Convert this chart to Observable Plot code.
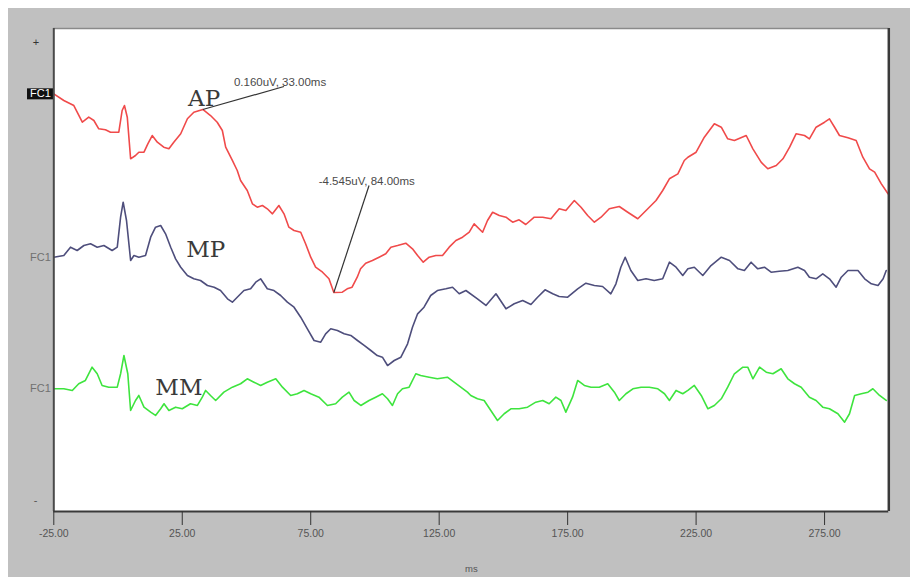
<!DOCTYPE html>
<html>
<head>
<meta charset="utf-8">
<script src="https://cdn.jsdelivr.net/npm/d3@7"></script>
<script src="https://cdn.jsdelivr.net/npm/@observablehq/plot@0.6"></script>
<style>
  html, body { margin: 0; background: #ffffff; overflow: hidden; }
  body { padding: 8px 0 0 8px; }
  #chart svg { display: block; }
</style>
</head>
<body>
<div id="chart"></div>
<script>
// Evoked response, electrode FC1, three conditions (time in ms, amplitude in µV)
const channels = ["AP", "MP", "MM"];
const channelLabel = "FC1";
const channelOffset = [0, -4, -7.3];           // vertical stacking of the traces, µV
const channelColor = ["#f04a4a", "#4e4e7c", "#3ee43e"];
const xTicks = [-25, 25, 75, 125, 175, 225, 275];
const cursorMs = [33, 84];                     // cursor readouts on the AP trace

const apMs = [-25,-21.1,-17.2,-13.9,-11.4,-9.4,-7.5,-4.9,-2.9,0.3,
  1.6,2.5,3.6,4.9,6.8,8.1,10.1,11.6,13.3,15.3,
  17.8,19.8,21.7,24.4,27.0,29.5,33,36.0,38.6,40.6,
  41.9,44.5,46.4,47.7,50.3,52.3,54.2,56.2,58.1,60.1,
  62.6,64.6,66.5,68.5,71.1,73.0,75.0,76.9,79.6,82.1,
  84,87.3,89.2,91.1,93.1,94.4,96.4,99.0,101.6,104.2,
  106.2,108.8,112.0,114.6,116.6,118.8,121.1,123.7,126.3,128.9,
  131.5,134.1,136.7,138.6,141.9,143.8,145.8,148.4,151.0,153.6,
  156.1,158.7,162.0,165.3,168.5,171.7,174.3,177.6,180.2,182.8,
  185.4,188.0,191.2,195.1,198.4,202.3,206.2,209.4,212.0,214.6,
  217.9,220.4,221.8,225.0,228.2,232.1,234.8,237.3,239.9,244.5,
  247.1,250.3,252.9,256.2,258.8,261.4,263.9,267.2,269.1,271.7,
  275.0,276.9,278.9,280.8,284.1,287.3,289.9,292.5,294.5,297.1,
  299.7];
const apUv = [0.563,0.391,0.262,-0.167,-0.038,-0.123,-0.337,-0.362,-0.424,-0.424,
  0.134,0.262,-0.038,-1.108,-1.023,-0.938,-0.938,-0.722,-0.509,-0.681,
  -0.810,-0.851,-0.681,-0.465,-0.079,0.090,0.160,0.005,-0.167,-0.380,
  -0.810,-1.151,-1.409,-1.666,-1.923,-2.265,-2.352,-2.308,-2.393,-2.522,
  -2.308,-2.522,-2.866,-2.951,-2.995,-3.293,-3.637,-3.894,-4.023,-4.193,
  -4.545,-4.537,-4.450,-4.409,-4.152,-3.936,-3.792,-3.722,-3.638,-3.550,
  -3.380,-3.337,-3.278,-3.422,-3.594,-3.766,-3.638,-3.594,-3.594,-3.380,
  -3.208,-3.123,-2.995,-2.779,-2.995,-2.694,-2.481,-2.566,-2.609,-2.738,
  -2.676,-2.797,-2.609,-2.609,-2.650,-2.393,-2.437,-2.180,-2.352,-2.566,
  -2.738,-2.609,-2.393,-2.334,-2.481,-2.650,-2.393,-2.180,-1.923,-1.622,
  -1.494,-1.152,-1.067,-0.938,-0.553,-0.208,-0.296,-0.594,-0.638,-0.509,
  -0.851,-1.195,-1.365,-1.280,-1.108,-0.810,-0.465,-0.509,-0.594,-0.296,
  -0.167,-0.080,-0.296,-0.509,-0.568,-0.638,-1.067,-1.365,-1.452,-1.751,
  -2.008];

const mpMs = [-25,-21.1,-18.5,-15.9,-13.3,-10.7,-8.1,-5.5,-2.3,-0.3,
  1.0,2.0,3.3,4.9,6.2,8.1,10.7,12.7,14.6,16.6,
  18.5,20.5,22.4,24.4,27.0,29.5,32.1,34.8,37.4,39.9,
  42.6,44.5,46.4,49.0,51.6,53.6,55.5,58.1,60.7,63.3,
  65.9,68.5,71.1,73.7,76.3,78.9,80.8,82.8,85.4,88.0,
  90.6,93.2,95.8,98.4,100.9,102.9,104.9,107.5,110.1,112.7,
  114.6,116.6,119.1,121.7,124.3,127.6,130.2,132.8,135.4,139.9,
  143.2,147.1,151.0,154.2,157.5,160.7,163.3,166.2,169.2,171.7,
  175.0,178.9,182.1,185.4,188.6,191.8,193.8,195.7,197.4,199.6,
  202.3,205.5,208.7,212.0,214.6,217.2,219.8,221.8,224.3,227.6,
  230.8,234.8,238.0,241.3,243.8,246.4,249.0,251.6,254.2,257.4,
  260.7,264.6,267.2,269.1,271.7,274.3,276.9,279.5,281.5,284.1,
  288.0,290.6,293.2,295.8,297.8,299.0];
const mpUv = [0.362,0.406,0.620,0.535,0.663,0.707,0.620,0.663,0.535,0.620,
  1.391,1.776,1.306,0.278,0.406,0.362,0.406,0.877,1.134,1.177,
  0.964,0.620,0.321,0.105,-0.108,-0.193,-0.237,-0.365,-0.409,-0.494,
  -0.707,-0.794,-0.666,-0.494,-0.450,-0.280,-0.193,-0.450,-0.494,-0.622,
  -0.794,-0.923,-1.180,-1.478,-1.779,-1.823,-1.607,-1.478,-1.522,-1.607,
  -1.650,-1.779,-1.907,-2.036,-2.165,-2.208,-2.422,-2.293,-2.208,-1.864,
  -1.437,-1.093,-0.923,-0.622,-0.494,-0.450,-0.409,-0.578,-0.494,-0.707,
  -0.879,-0.578,-0.964,-0.835,-0.751,-0.853,-0.666,-0.476,-0.578,-0.648,
  -0.666,-0.450,-0.306,-0.365,-0.391,-0.578,-0.321,0.105,0.362,0.021,
  -0.237,-0.193,-0.237,-0.193,0.234,0.105,-0.108,0.064,0.105,-0.108,
  0.149,0.362,0.278,0.064,0.021,0.234,0.064,0.105,-0.023,0.003,
  0.021,0.105,0.021,-0.152,-0.193,-0.064,-0.193,-0.409,-0.152,0.021,
  0.021,-0.193,-0.321,-0.365,-0.193,0.021];

const mmMs = [-25,-21.1,-17.8,-15.3,-12.7,-10.1,-8.1,-6.2,-3.6,-0.3,
  1.0,2.3,3.8,4.9,6.8,8.1,10.1,12.7,14.6,16.6,
  17.9,19.8,22.4,25.0,28.2,30.9,32.8,34.1,36.0,38.0,
  41.2,44.5,47.7,50.3,52.9,55.5,58.1,61.4,64.0,67.2,
  69.8,72.4,75.0,78.2,81.5,84.7,87.3,89.9,91.9,94.5,
  97.7,100.3,102.9,104.9,106.8,108.8,110.7,113.3,115.9,117.8,
  121.1,124.3,128.2,130.8,133.4,136.0,137.3,139.9,142.5,145.1,
  147.7,150.3,152.9,156.1,159.4,162.6,165.3,167.8,170.4,172.4,
  174.3,176.9,178.9,181.5,184.1,187.3,190.6,193.2,195.1,197.7,
  200.4,203.6,206.8,210.1,212.7,214.6,217.2,219.8,221.8,224.3,
  227.0,229.6,232.1,234.8,237.3,239.9,243.2,245.1,247.1,249.7,
  252.3,254.9,258.1,260.7,263.3,265.9,269.1,271.7,274.3,276.9,
  280.2,282.8,284.7,286.7,289.3,291.9,293.8,296.4,299.0];
const mmUv = [0.280,0.280,0.237,0.409,0.494,0.835,0.666,0.365,0.321,0.321,
  0.666,1.136,0.666,-0.278,-0.021,0.108,-0.193,-0.321,-0.406,-0.234,
  -0.105,-0.278,-0.193,-0.234,-0.105,-0.149,0.064,0.237,0.108,-0.021,
  0.193,0.321,0.409,0.537,0.450,0.365,0.450,0.537,0.321,0.108,
  0.152,0.237,0.152,0.064,-0.149,-0.105,0.064,0.193,-0.021,-0.149,
  -0.021,0.064,0.152,0.023,-0.149,0.152,0.280,0.321,0.666,0.622,
  0.578,0.537,0.578,0.450,0.321,0.193,0.108,0.023,-0.021,-0.278,
  -0.535,-0.362,-0.234,-0.234,-0.193,-0.064,-0.021,-0.105,0.064,-0.021,
  -0.321,0.064,0.494,0.365,0.321,0.321,0.409,0.193,-0.021,0.152,
  0.280,0.321,0.321,0.280,0.152,-0.021,0.237,0.152,0.237,0.365,
  0.108,-0.234,-0.149,0.023,0.321,0.666,0.835,0.835,0.537,0.835,
  0.707,0.666,0.794,0.537,0.409,0.321,0.064,-0.021,-0.193,-0.234,
  -0.362,-0.578,-0.362,0.108,0.152,0.193,0.280,0.108,-0.021];

// Long-format table: one row per sample, shifted by its channel offset
const series = [[apMs, apUv], [mpMs, mpUv], [mmMs, mmUv]];
const rows = series.flatMap(([ms, uv], c) =>
  ms.map((t, i) => ({channel: channels[c], ms: t, uv: uv[i], y: uv[i] + channelOffset[c]})));

// Channel name tags sit where each trace enters the plot
const tags = series.map(([ms, uv], c) => ({channel: channels[c], y: uv[0] + channelOffset[c]}));

// Cursor readouts taken from the AP trace
const readouts = cursorMs.map(t => {
  const v = apUv[apMs.indexOf(t)];
  return {ms: t, uv: v, text: `${v.toFixed(3)}uV, ${t.toFixed(2)}ms`};
});
// leader line end (relative to the cursor point) and text start
const leaders = [{dx: 31.6, dy: 0.59, tx: 12.1}, {dx: 13.7, dy: 2.75, tx: -5.9}];
const callouts = readouts.map((r, i) => ({
  ...r,
  x2: r.ms + leaders[i].dx,
  y2: r.uv + leaders[i].dy,
  tx: r.ms + leaders[i].tx
}));

// Condition names written beside the traces
const names = [
  {name: "AP", ms: 33.5, y: 0.314},
  {name: "MP", ms: 34.1, y: 0.45 + channelOffset[1]},
  {name: "MM", ms: 23.7, y: 0.193 + channelOffset[2]}
];

const yDomain = [-10.175, 2.242];
const xDomain = [-25, 300];
const sans = "'Liberation Sans', Arial, sans-serif";

const chart = Plot.plot({
  width: 902,
  height: 569,
  marginLeft: 45.3,
  marginRight: 21.7,
  marginTop: 20,
  marginBottom: 66,
  style: {background: "#c0c0c0", fontFamily: sans, overflow: "visible"},
  x: {domain: xDomain, axis: null},
  y: {domain: yDomain, axis: null},
  color: {domain: channels, range: channelColor},
  marks: [
    Plot.frame({fill: "#ffffff", stroke: null}),
    Plot.lineY(rows, {x: "ms", y: "y", z: "channel", stroke: "channel", strokeWidth: 1.6, curve: "linear"}),
    // cursor leaders and readouts
    Plot.link(callouts, {x1: "ms", y1: "uv", x2: "x2", y2: "y2", stroke: "#333333", strokeWidth: 1.2}),
    Plot.text(callouts, {x: "tx", y: "y2", text: "text", textAnchor: "start", dy: -4, fontSize: 11.5, fill: "#4a4a4a"}),
    // condition names
    Plot.text(names, {x: "ms", y: "y", text: "name", fontFamily: "'DejaVu Serif', 'Liberation Serif', serif",
      fontSize: 23, fill: "#3a3a3a", lineAnchor: "bottom", dy: 3}),
    // channel tags on the left
    Plot.text(tags.slice(1), {y: "y", frameAnchor: "left", text: () => channelLabel, textAnchor: "end", dx: -3,
      fontSize: 11, fill: "#707070"}),
    Plot.text(tags.slice(0, 1), {y: "y", frameAnchor: "left", text: () => channelLabel, textAnchor: "end", dx: -3,
      fontSize: 11, fill: "#ffffff"}),
    Plot.text(["+"], {frameAnchor: "top-left", text: d => d, dx: -21, dy: 10, fontSize: 11, fill: "#333333"}),
    Plot.text(["-"], {frameAnchor: "bottom-left", text: d => d, dx: -20, dy: -8, fontSize: 11, fill: "#555555"}),
    // sunken panel border
    Plot.ruleY([yDomain[1]], {stroke: "#8a8a8a", strokeWidth: 1.5}),
    Plot.ruleX([xDomain[0]], {stroke: "#4a4a4a", strokeWidth: 2}),
    Plot.ruleX([xDomain[1]], {stroke: "#3a3a3a", strokeWidth: 2.5}),
    Plot.ruleY([yDomain[0]], {stroke: "#3a3a3a", strokeWidth: 2}),
    Plot.axisX({ticks: xTicks, tickFormat: d => d.toFixed(2), tickSize: 14, tickPadding: 4,
      fontSize: 10.5, stroke: "#333333", fill: "#555555", label: null}),
    Plot.text(["ms"], {frameAnchor: "bottom", text: d => d, dy: 60, fontSize: 9.5, fill: "#555555"})
  ]
});

document.getElementById("chart").append(chart);

// Dark highlight box behind the selected channel tag (the one drawn in white)
const active = chart.querySelector('g[fill="#ffffff"] text');
if (active) {
  const b = active.getBBox();
  const rect = document.createElementNS("http://www.w3.org/2000/svg", "rect");
  rect.setAttribute("x", b.x - 3);
  rect.setAttribute("y", b.y + 1);
  rect.setAttribute("width", b.width + 6);
  rect.setAttribute("height", b.height - 1);
  rect.setAttribute("fill", "#111111");
  const tf = active.getAttribute("transform");
  if (tf) rect.setAttribute("transform", tf);
  active.parentNode.insertBefore(rect, active);
}
</script>
</body>
</html>
